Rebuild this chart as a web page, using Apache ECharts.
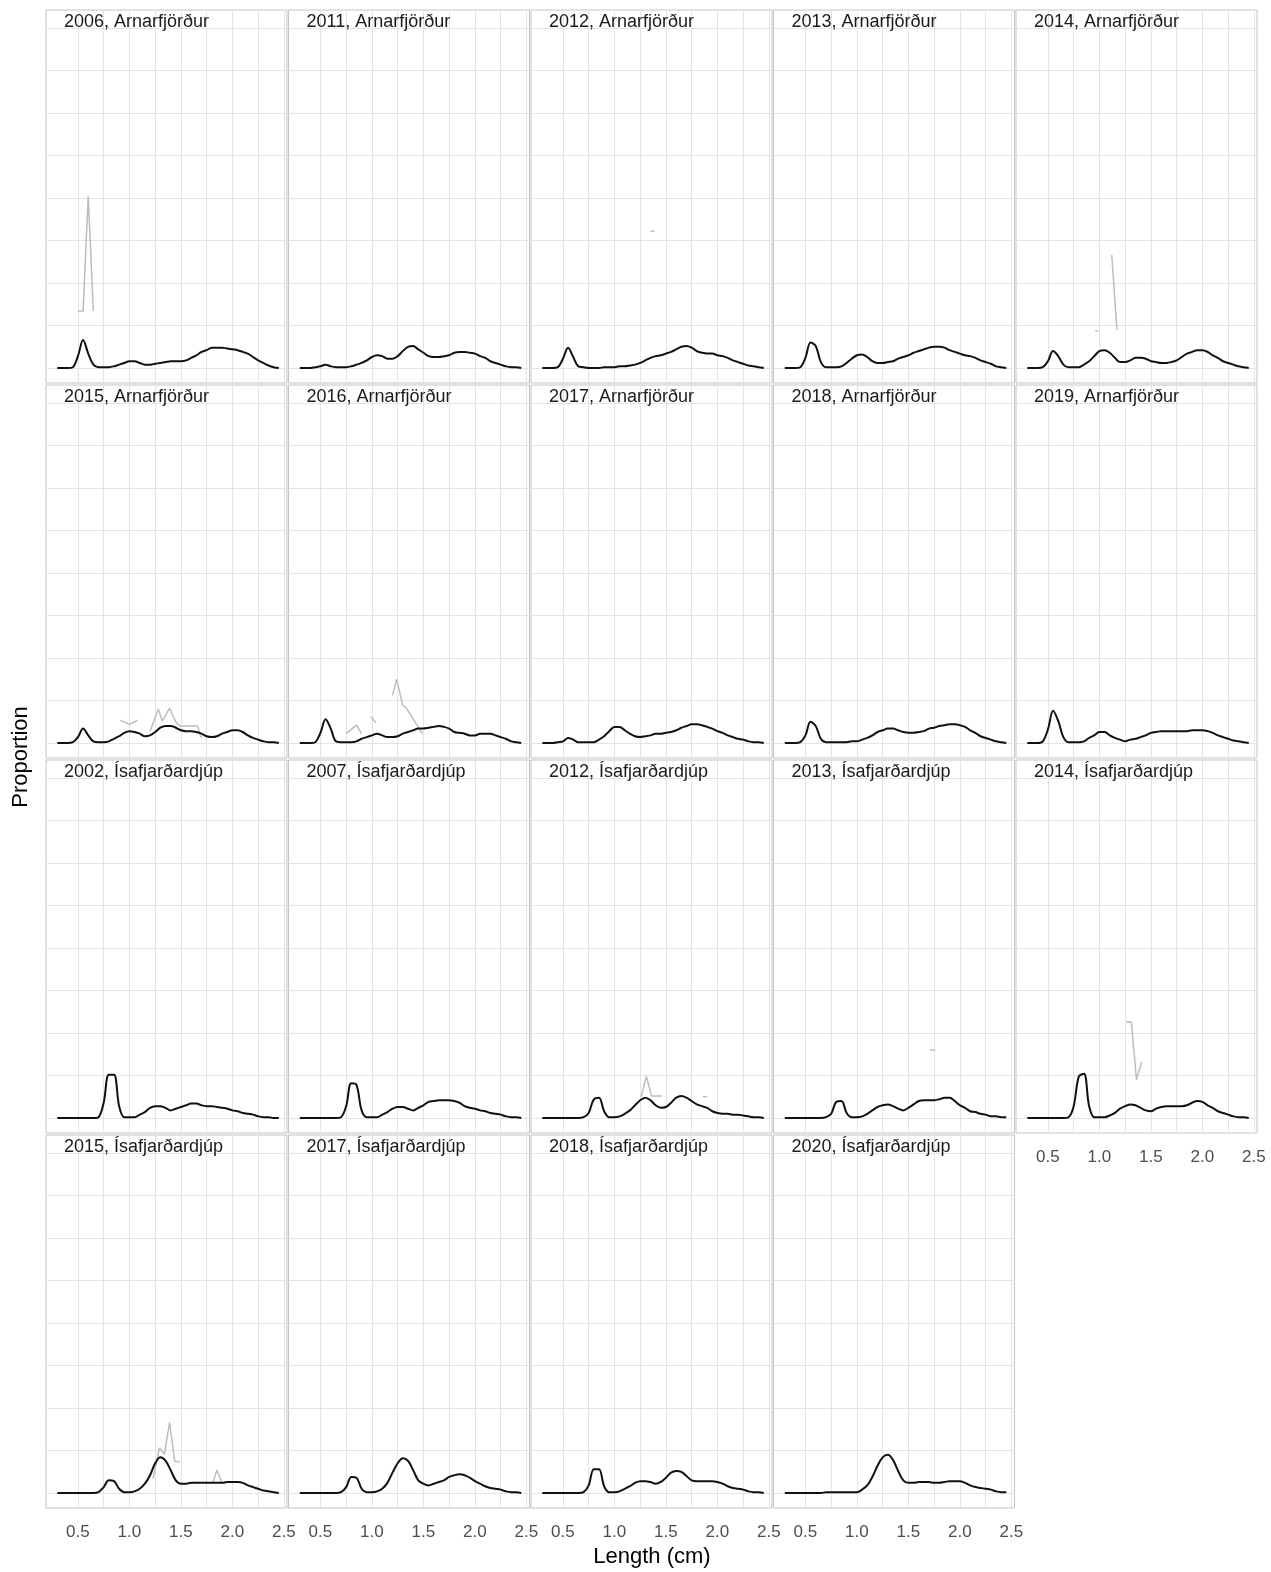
<!DOCTYPE html>
<html><head><meta charset="utf-8">
<script src="https://cdn.jsdelivr.net/npm/echarts@6/dist/echarts.min.js"></script>
<style>html,body{margin:0;padding:0;background:#fff}#c{width:1271px;height:1572px}</style>
</head><body><div id="c"></div><script>
// ---------- data ----------
const lengths = [0.30,0.35,0.40,0.45,0.50,0.55,0.60,0.65,0.70,0.75,0.80,0.85,0.90,0.95,1.00,1.05,1.10,1.15,1.20,1.25,1.30,1.35,1.40,1.45,1.50,1.55,1.60,1.65,1.70,1.75,1.80,1.85,1.90,1.95,2.00,2.05,2.10,2.15,2.20,2.25,2.30,2.35,2.40,2.45];
const xTicks = [0.5,1.0,1.5,2.0,2.5];
const minorBreaks = [0.75,1.25,1.75,2.25];

const arn2006 = [0,0,0,0.001,0.014,0.033,0.017,0.004,0.001,0.001, 0.001,0.002,0.004,0.006,0.008,0.008,0.006,0.004,0.004,0.005, 0.006,0.007,0.008,0.008,0.008,0.009,0.012,0.015,0.019,0.021, 0.024,0.024,0.024,0.023,0.022,0.021,0.019,0.017,0.013,0.009, 0.006,0.003,0.001,0];
const arn2011 = [0,0,0,0.001,0.002,0.004,0.002,0.001,0.001,0.001, 0.002,0.004,0.006,0.009,0.013,0.015,0.014,0.011,0.011,0.014, 0.020,0.025,0.026,0.022,0.018,0.014,0.013,0.013,0.014,0.015, 0.018,0.019,0.019,0.018,0.017,0.014,0.012,0.008,0.006,0.004, 0.002,0.001,0.001,0];
const arn2012 = [0,0,0,0.001,0.011,0.024,0.013,0.002,0.001,0, 0,0,0.001,0.001,0.001,0.002,0.002,0.003,0.004,0.006, 0.009,0.012,0.014,0.015,0.017,0.019,0.022,0.025,0.026,0.024, 0.020,0.018,0.017,0.017,0.015,0.014,0.012,0.009,0.007,0.005, 0.003,0.002,0.001,0];
const arn2013 = [0,0,0,0.001,0.012,0.030,0.026,0.007,0.001,0.001, 0.001,0.002,0.006,0.011,0.015,0.016,0.013,0.008,0.006,0.006, 0.007,0.008,0.011,0.013,0.015,0.018,0.020,0.022,0.024,0.025, 0.025,0.024,0.021,0.019,0.017,0.015,0.014,0.012,0.009,0.007, 0.005,0.002,0.001,0];
const arn2014 = [0,0,0,0.001,0.008,0.020,0.014,0.004,0.001,0.001, 0.001,0.004,0.008,0.014,0.020,0.021,0.018,0.012,0.007,0.007, 0.009,0.012,0.012,0.011,0.008,0.007,0.006,0.006,0.007,0.009, 0.013,0.017,0.019,0.021,0.021,0.019,0.015,0.012,0.008,0.006, 0.004,0.002,0.001,0];
const arn2015 = [0,0,0,0.001,0.007,0.017,0.009,0.002,0.001,0.001, 0.002,0.005,0.008,0.012,0.014,0.013,0.011,0.008,0.009,0.013, 0.018,0.020,0.020,0.018,0.015,0.014,0.014,0.013,0.011,0.008, 0.007,0.008,0.011,0.013,0.015,0.015,0.013,0.009,0.006,0.004, 0.002,0.001,0.001,0];
const arn2016 = [0,0,0,0.001,0.012,0.028,0.017,0.002,0.001,0.001, 0.001,0.002,0.005,0.007,0.009,0.011,0.009,0.007,0.007,0.008, 0.011,0.013,0.015,0.017,0.017,0.018,0.019,0.020,0.019,0.017, 0.013,0.012,0.011,0.009,0.009,0.011,0.011,0.011,0.009,0.007, 0.005,0.002,0.001,0];
const arn2017 = [0,0,0,0.001,0.002,0.006,0.004,0.001,0.001,0.001, 0.001,0.004,0.008,0.014,0.019,0.019,0.015,0.011,0.008,0.007, 0.008,0.009,0.011,0.011,0.012,0.013,0.015,0.018,0.020,0.022, 0.022,0.021,0.019,0.017,0.014,0.012,0.009,0.007,0.005,0.004, 0.002,0.001,0.001,0];
const arn2018 = [0,0,0,0.001,0.009,0.025,0.020,0.005,0.001,0.001, 0.001,0.001,0.001,0.002,0.002,0.004,0.006,0.009,0.013,0.015, 0.017,0.017,0.015,0.013,0.012,0.012,0.013,0.014,0.017,0.018, 0.020,0.021,0.022,0.022,0.021,0.019,0.015,0.012,0.008,0.006, 0.004,0.002,0.001,0];
const arn2019 = [0,0,0,0.002,0.016,0.038,0.026,0.007,0.001,0.001, 0.001,0.002,0.006,0.009,0.013,0.013,0.009,0.006,0.004,0.002, 0.004,0.005,0.007,0.009,0.012,0.013,0.014,0.014,0.014,0.014, 0.014,0.014,0.015,0.015,0.015,0.014,0.012,0.009,0.007,0.005, 0.003,0.002,0.001,0];
const isa2002 = [0,0,0,0,0,0,0,0, 0.001,0.018,0.051,0.051,0.014,0.001,0.001,0.001,0.004,0.007, 0.012,0.014,0.014,0.012,0.009,0.011,0.013,0.015,0.017,0.017, 0.015,0.014,0.014,0.013,0.012,0.011,0.009,0.008,0.006,0.005, 0.004,0.002,0.001,0.001,0,0];
const isa2007 = [0,0,0,0,0,0,0,0, 0.001,0.014,0.041,0.039,0.009,0.001,0.001,0.001,0.004,0.007, 0.011,0.013,0.013,0.011,0.009,0.012,0.015,0.019,0.020,0.021, 0.021,0.021,0.020,0.018,0.014,0.012,0.011,0.009,0.008,0.006, 0.005,0.004,0.002,0.001,0.001,0];
const isa2012 = [0,0,0,0,0,0,0,0, 0.001,0.006,0.022,0.024,0.008,0.001,0.001,0.002,0.005,0.009, 0.015,0.021,0.024,0.021,0.015,0.012,0.013,0.018,0.024,0.026, 0.024,0.020,0.016,0.014,0.012,0.008,0.006,0.005,0.005,0.004, 0.004,0.003,0.002,0.001,0.001,0];
const isa2013 = [0,0,0,0,0,0,0,0, 0.001,0.005,0.019,0.020,0.006,0.001,0.001,0.002,0.005,0.009, 0.013,0.015,0.016,0.014,0.011,0.009,0.012,0.016,0.020,0.021, 0.021,0.021,0.022,0.024,0.024,0.020,0.015,0.012,0.008,0.007, 0.005,0.004,0.002,0.002,0.001,0.001];
const isa2014 = [0,0,0,0,0,0,0,0, 0.001,0.014,0.049,0.052,0.014,0.001,0.001,0.001,0.003,0.006, 0.011,0.014,0.016,0.015,0.012,0.009,0.008,0.011,0.013,0.014, 0.014,0.014,0.014,0.015,0.018,0.020,0.019,0.015,0.012,0.008, 0.006,0.004,0.002,0.001,0.001,0];
const isa2015 = [0,0,0,0,0,0,0,0, 0.001,0.007,0.015,0.014,0.005,0.001,0.001,0.002,0.005,0.011, 0.021,0.035,0.042,0.038,0.027,0.015,0.011,0.011,0.012,0.012, 0.012,0.012,0.012,0.012,0.012,0.013,0.013,0.013,0.012,0.009, 0.007,0.005,0.003,0.002,0.001,0];
const isa2017 = [0,0,0,0,0,0,0,0, 0.001,0.007,0.019,0.018,0.005,0.001,0.001,0.002,0.005,0.012, 0.024,0.035,0.041,0.038,0.027,0.015,0.011,0.009,0.011,0.013, 0.015,0.019,0.021,0.022,0.021,0.018,0.014,0.011,0.008,0.006, 0.005,0.004,0.002,0.001,0.001,0];
const isa2018 = [0,0,0,0,0,0,0,0, 0.001,0.009,0.028,0.028,0.008,0.001,0.001,0.002,0.005,0.008, 0.012,0.014,0.014,0.013,0.011,0.013,0.018,0.024,0.026,0.025, 0.020,0.015,0.014,0.014,0.014,0.014,0.013,0.011,0.008,0.006, 0.005,0.004,0.002,0.001,0.001,0];
const isa2020 = [0,0,0,0,0,0,0,0, 0.001,0.001,0.001,0.001,0.001,0.001,0.001,0.004,0.009,0.019, 0.032,0.042,0.045,0.039,0.026,0.015,0.012,0.012,0.013,0.013, 0.013,0.012,0.012,0.013,0.014,0.014,0.014,0.012,0.009,0.007, 0.006,0.005,0.004,0.002,0.001,0.001];

// observed proportions (grey), null = gap
const arn2006Obs = [[0.50,0.067],[0.55,0.067],[0.60,0.202],[0.65,0.067]];
const arn2012Obs = [[1.35,0.161],[1.39,0.161]];
const arn2014Obs = [[0.96,0.044],[0.99,0.044],null,[1.12,0.133],[1.17,0.045]];
const arn2015Obs = [[0.91,0.027],[1.00,0.022],[1.08,0.027],null,[1.20,0.014],[1.28,0.040],[1.32,0.026],[1.39,0.041],[1.45,0.025],[1.49,0.020],[1.66,0.020],[1.70,0.006]];
const arn2016Obs = [[0.75,0.011],[0.85,0.021],[0.90,0.011],null,[0.99,0.031],[1.04,0.024],null,[1.20,0.056],[1.24,0.075],[1.30,0.044],[1.33,0.042],[1.49,0.011]];
const isa2012Obs = [[1.26,0.025],[1.31,0.049],[1.36,0.026],[1.46,0.026],null,[1.86,0.025],[1.90,0.025]];
const isa2013Obs = [[1.71,0.080],[1.76,0.080]];
const isa2014Obs = [[1.26,0.113],[1.31,0.113],[1.36,0.045],[1.41,0.066]];
const isa2015Obs = [[1.23,0.017],[1.29,0.053],[1.34,0.046],[1.39,0.083],[1.44,0.037],[1.49,0.037],null,[1.81,0.012],[1.85,0.027],[1.90,0.012]];

const panelLabels = ['2006, Arnarfjörður','2011, Arnarfjörður','2012, Arnarfjörður','2013, Arnarfjörður','2014, Arnarfjörður',
  '2015, Arnarfjörður','2016, Arnarfjörður','2017, Arnarfjörður','2018, Arnarfjörður','2019, Arnarfjörður',
  '2002, Ísafjarðardjúp','2007, Ísafjarðardjúp','2012, Ísafjarðardjúp','2013, Ísafjarðardjúp','2014, Ísafjarðardjúp',
  '2015, Ísafjarðardjúp','2017, Ísafjarðardjúp','2018, Ísafjarðardjúp','2020, Ísafjarðardjúp'];
const panelFits = [arn2006,arn2011,arn2012,arn2013,arn2014,arn2015,arn2016,arn2017,arn2018,arn2019,
  isa2002,isa2007,isa2012,isa2013,isa2014,isa2015,isa2017,isa2018,isa2020];
const panelObs = [arn2006Obs,null,arn2012Obs,null,arn2014Obs,arn2015Obs,arn2016Obs,null,null,null,
  null,null,isa2012Obs,isa2013Obs,isa2014Obs,isa2015Obs,null,null,null];

// ---------- layout ----------
const COLS = 5, PL = 46, PT = 10, PW = 241, PH = 373, DX = 242.5, DY = 375;
const X_MIN = 0.19, X_MAX = 2.53, Y_MIN = -0.0176, Y_MAX = 0.4212;
const FONT = 'Liberation Sans, Arial, sans-serif';
const GRID_COL = '#e4e4e4';

const grids = [], xAxes = [], yAxes = [], series = [], titles = [];
const n = panelLabels.length;
panelLabels.forEach((label, i) => {
  const r = Math.floor(i / COLS), c = i % COLS;
  const left = PL + c * DX, top = PT + r * DY;
  const showLab = (i + COLS >= n);
  grids.push({left: left, top: top, width: PW, height: PH, show: true,
    borderColor: '#c4c4c4', borderWidth: 1, backgroundColor: 'transparent'});
  xAxes.push({gridIndex: i, type: 'value', min: X_MIN, max: X_MAX, splitNumber: 5,
    axisLine: {show: false}, axisTick: {show: false},
    axisLabel: {show: showLab, showMinLabel: false, showMaxLabel: false, margin: 16,
      color: '#4d4d4d', fontSize: 17, fontFamily: FONT,
      formatter: v => (xTicks.indexOf(Math.round(v * 100) / 100) >= 0 ? v.toFixed(1) : '')},
    splitLine: {show: true, showMinLine: false, showMaxLine: false, lineStyle: {color: GRID_COL, width: 1}}});
  yAxes.push({gridIndex: i, type: 'value', min: Y_MIN, max: Y_MAX, splitNumber: 8,
    axisLine: {show: false}, axisTick: {show: false}, axisLabel: {show: false},
    splitLine: {show: true, showMinLine: false, showMaxLine: false, lineStyle: {color: GRID_COL, width: 1}}});
  titles.push({text: label, left: left + 18, top: top + 3, padding: 0,
    textStyle: {fontSize: 18, fontWeight: 'normal', color: '#1a1a1a', fontFamily: FONT}});
  // minor vertical grid lines (drawn beneath the data lines)
  series.push({type: 'line', xAxisIndex: i, yAxisIndex: i, data: [], silent: true, z: 0,
    markLine: {silent: true, z: 0, symbol: ['none', 'none'], label: {show: false}, animation: false,
      lineStyle: {color: GRID_COL, width: 1, type: 'solid'},
      emphasis: {disabled: true},
      data: minorBreaks.map(v => ({xAxis: v}))}});
  if (panelObs[i]) {
    series.push({type: 'line', xAxisIndex: i, yAxisIndex: i, symbol: 'none', silent: true, z: 6,
      connectNulls: false,
      data: panelObs[i].map((p, k) => p ? p : [panelObs[i][k - 1][0] + 0.01, '-']),
      lineStyle: {color: '#bdbdbd', width: 1.5}});
  }
  series.push({type: 'line', xAxisIndex: i, yAxisIndex: i, symbol: 'none', silent: true, z: 7,
    smooth: 0.35,
    data: lengths.map((x, j) => [x, panelFits[i][j]]),
    lineStyle: {color: '#111111', width: 2}});
});

const chart = echarts.init(document.getElementById('c'), null, {renderer: 'canvas'});
chart.setOption({
  animation: false,
  backgroundColor: '#ffffff',
  title: titles,
  grid: grids, xAxis: xAxes, yAxis: yAxes, series: series,
  graphic: [
    {type: 'text', x: 652, y: 1557, silent: true,
      style: {text: 'Length (cm)', fontSize: 22, fontFamily: FONT, fill: '#000',
        textAlign: 'center', textVerticalAlign: 'middle', align: 'center', verticalAlign: 'middle'}},
    {type: 'text', x: 21, y: 757, rotation: Math.PI / 2, silent: true,
      style: {text: 'Proportion', fontSize: 22, fontFamily: FONT, fill: '#000',
        textAlign: 'center', textVerticalAlign: 'middle', align: 'center', verticalAlign: 'middle'}}
  ]
});
</script></body></html>
